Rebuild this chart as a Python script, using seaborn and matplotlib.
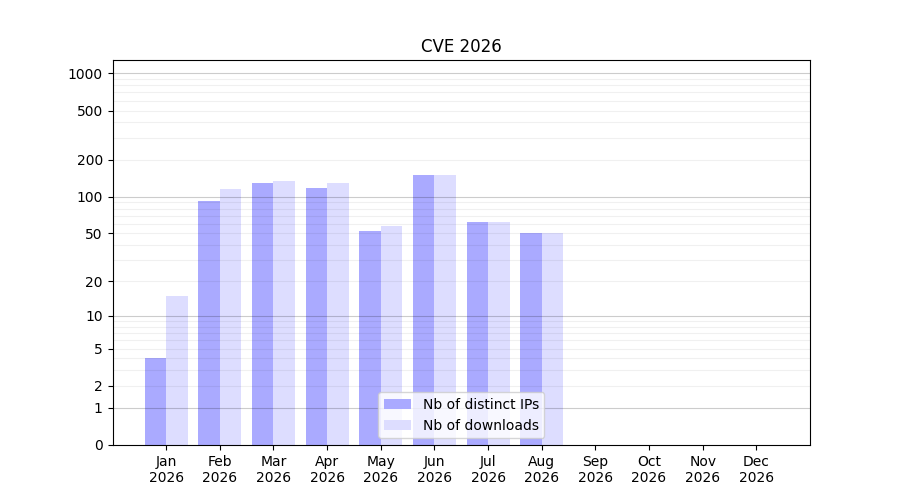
import numpy as np
import pandas as pd
import matplotlib
matplotlib.use("Agg")
import matplotlib.pyplot as plt
import seaborn as sns

# -----------------------------
# Data
# -----------------------------
months = ["Jan", "Feb", "Mar", "Apr", "May", "Jun",
          "Jul", "Aug", "Sep", "Oct", "Nov", "Dec"]
year = "2026"
distinct_ips = [4, 93, 130, 118, 52, 150, 62, 50, 0, 0, 0, 0]
downloads = [15, 115, 135, 130, 58, 150, 62, 50, 0, 0, 0, 0]

series_names = ["Nb of distinct IPs", "Nb of downloads"]
y_ticks = [0, 1, 2, 5, 10, 20, 50, 100, 200, 500, 1000]

labels = [m + "\n" + year for m in months]

df = pd.DataFrame({
    "month": labels * 2,
    "value": distinct_ips + downloads,
    "series": [series_names[0]] * 12 + [series_names[1]] * 12,
})

# -----------------------------
# Plot
# -----------------------------
fig, ax = plt.subplots(figsize=(9, 5), dpi=100)

sns.barplot(
    data=df,
    x="month",
    y="value",
    hue="series",
    palette=["#aaaaff", "#ddddff"],
    saturation=1,
    width=0.8,
    ax=ax,
    zorder=2,
)

# log(1 + x) scale
ax.set_yscale(
    "function",
    functions=(lambda v: np.log10(np.maximum(v, 0) + 1),
               lambda v: 10 ** v - 1),
)
ax.set_ylim(0, 1280)
ax.set_xlim(-1, 12)

ax.set_yticks(y_ticks)
ax.set_yticklabels([str(t) for t in y_ticks])
ax.yaxis.set_minor_locator(matplotlib.ticker.NullLocator())

# grid lines
for decade in [1, 10, 100]:
    for k in range(1, 10):
        v = decade * k
        if k == 1:
            ax.axhline(v, color="k", alpha=0.2, lw=0.8, zorder=3)
        else:
            ax.axhline(v, color="k", alpha=0.06, lw=0.8, zorder=3)
ax.axhline(1000, color="k", alpha=0.2, lw=0.8, zorder=3)

ax.set_xlabel("")
ax.set_ylabel("")
ax.set_title("CVE 2026")

ax.legend(loc="lower center", title=None)

plt.subplots_adjust(left=0.125, right=0.9, top=0.88, bottom=0.11)
plt.savefig("out.png", dpi=100)
